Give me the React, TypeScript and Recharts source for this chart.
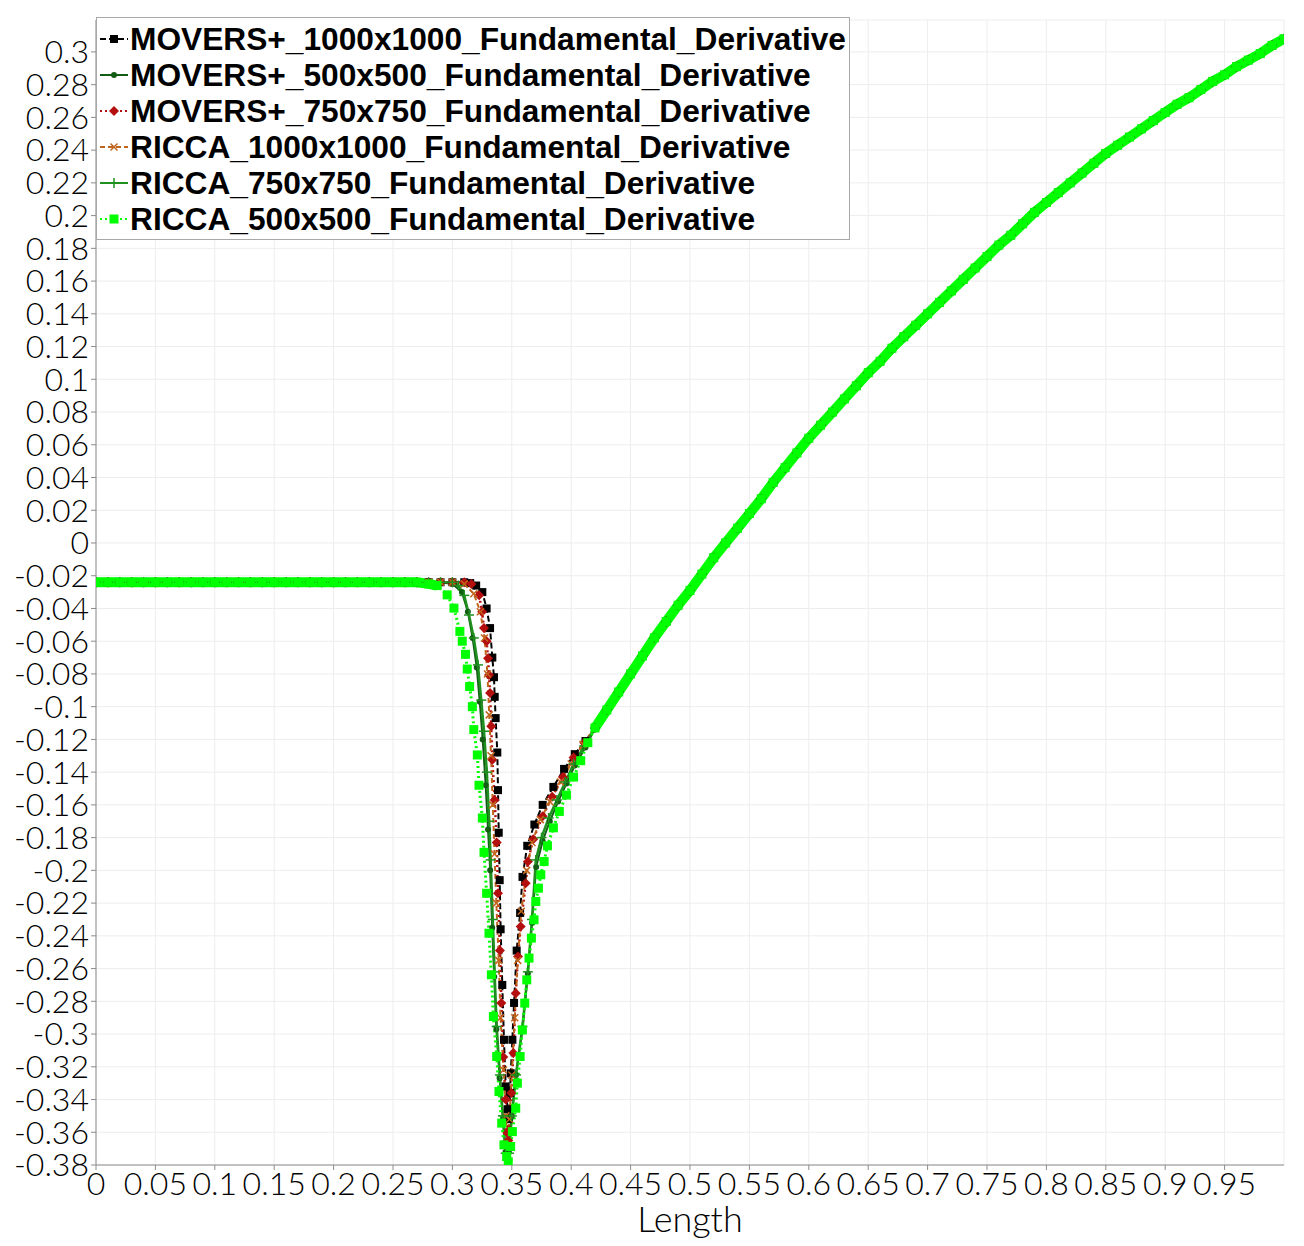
import { LineChart, Line, XAxis, YAxis, CartesianGrid } from 'recharts'

// flat part, shared by all runs
const PLATEAU_X = [
  0, 0.01, 0.02, 0.03, 0.04, 0.05, 0.06, 0.07, 0.08, 0.09, 0.1, 0.11, 0.12, 0.13,
  0.14, 0.15, 0.16, 0.17, 0.18, 0.19, 0.2, 0.21, 0.22, 0.23, 0.24, 0.25, 0.26, 0.27,
]
const PLATEAU_Y = -0.024

// expansion branch, all runs collapse onto it
const TAIL_X = [
  0.42, 0.43, 0.44, 0.45, 0.46, 0.47, 0.48, 0.49, 0.5, 0.51, 0.52, 0.53, 0.54, 0.55,
  0.56, 0.57, 0.58, 0.59, 0.6, 0.61, 0.62, 0.63, 0.64, 0.65, 0.66, 0.67, 0.68, 0.69,
  0.7, 0.71, 0.72, 0.73, 0.74, 0.75, 0.76, 0.77, 0.78, 0.79, 0.8, 0.81, 0.82, 0.83,
  0.84, 0.85, 0.86, 0.87, 0.88, 0.89, 0.9, 0.91, 0.92, 0.93, 0.94, 0.95, 0.96, 0.97,
  0.98, 0.99, 1.0,
]
const TAIL_Y = [
  -0.113, -0.102, -0.091, -0.08, -0.069, -0.058, -0.048, -0.038, -0.029, -0.019, -0.009, 0.0, 0.009, 0.018,
  0.027, 0.037, 0.046, 0.055, 0.064, 0.072, 0.08, 0.088, 0.096, 0.104, 0.111, 0.119, 0.126, 0.133,
  0.14, 0.147, 0.154, 0.161, 0.168, 0.175, 0.182, 0.188, 0.195, 0.202, 0.208, 0.214, 0.22, 0.226,
  0.232, 0.238, 0.243, 0.248, 0.253, 0.258, 0.263, 0.268, 0.272, 0.277, 0.282, 0.286, 0.291, 0.295,
  0.299, 0.304, 0.308,
]

// shock region, per run
const M1000_DIP: [number, number][] = [
  [0.28, -0.024], [0.29, -0.024], [0.3, -0.024], [0.31, -0.024], [0.315, -0.0245], [0.32, -0.026],
  [0.3252, -0.03], [0.3288, -0.04], [0.3317, -0.052], [0.3336, -0.07], [0.335, -0.082], [0.3356, -0.094],
  [0.3364, -0.107], [0.3378, -0.128], [0.3384, -0.151], [0.339, -0.177], [0.3398, -0.206], [0.3406, -0.236],
  [0.342, -0.27], [0.3434, -0.3035], [0.3449, -0.332], [0.3465, -0.346], [0.3477, -0.352], [0.3485, -0.336],
  [0.3491, -0.324], [0.3505, -0.3035], [0.3519, -0.281], [0.3541, -0.249], [0.357, -0.226], [0.359, -0.204],
  [0.363, -0.185], [0.369, -0.172], [0.376, -0.16], [0.385, -0.149], [0.394, -0.138], [0.403, -0.129],
  [0.412, -0.121],
]
const M500_DIP: [number, number][] = [
  [0.28, -0.024], [0.29, -0.024], [0.3, -0.025], [0.308, -0.03], [0.313, -0.042], [0.317, -0.058],
  [0.3205, -0.076], [0.323, -0.097], [0.3255, -0.12], [0.328, -0.148], [0.33, -0.175], [0.3318, -0.2],
  [0.3335, -0.235], [0.3352, -0.265], [0.337, -0.297], [0.3398, -0.327], [0.3425, -0.352], [0.3447, -0.372],
  [0.3458, -0.377], [0.3475, -0.372], [0.35, -0.35], [0.3535, -0.325], [0.359, -0.297], [0.3635, -0.263],
  [0.367, -0.232], [0.3705, -0.198], [0.376, -0.182], [0.382, -0.17], [0.389, -0.158], [0.396, -0.147],
  [0.403, -0.136], [0.412, -0.125],
]
const M750_DIP: [number, number][] = [
  [0.28, -0.024], [0.29, -0.024], [0.3, -0.024], [0.31, -0.024], [0.316, -0.025], [0.3225, -0.032],
  [0.325, -0.042], [0.3266, -0.052], [0.3288, -0.06], [0.33, -0.0704], [0.3308, -0.0806], [0.3317, -0.0917],
  [0.3327, -0.112], [0.3336, -0.1325], [0.3356, -0.157], [0.3373, -0.183], [0.3384, -0.214], [0.34, -0.249],
  [0.3412, -0.281], [0.3428, -0.314], [0.3449, -0.34], [0.3463, -0.3605], [0.347, -0.365], [0.3477, -0.3585],
  [0.3496, -0.336], [0.3513, -0.3116], [0.3533, -0.275], [0.3552, -0.2526], [0.3575, -0.2343], [0.3617, -0.2078],
  [0.3636, -0.1946], [0.368, -0.181], [0.376, -0.167], [0.384, -0.155], [0.393, -0.143], [0.402, -0.131],
  [0.411, -0.122],
]
const R1000_DIP: [number, number][] = [
  [0.28, -0.024], [0.29, -0.024], [0.3, -0.024], [0.31, -0.025], [0.318, -0.031], [0.3235, -0.042],
  [0.327, -0.058], [0.3295, -0.08], [0.331, -0.105], [0.3325, -0.13], [0.334, -0.16], [0.3355, -0.19],
  [0.337, -0.22], [0.339, -0.255], [0.3405, -0.29], [0.343, -0.322], [0.345, -0.35], [0.3465, -0.368],
  [0.348, -0.352], [0.35, -0.325], [0.3525, -0.29], [0.355, -0.255], [0.358, -0.225], [0.3625, -0.2],
  [0.367, -0.183], [0.374, -0.169], [0.382, -0.158], [0.391, -0.146], [0.4, -0.135], [0.41, -0.123],
]
const R750_DIP: [number, number][] = [
  [0.28, -0.024], [0.29, -0.024], [0.3, -0.024], [0.305, -0.026], [0.31, -0.032], [0.314, -0.044],
  [0.318, -0.058], [0.3215, -0.0745], [0.3243, -0.096], [0.3266, -0.115], [0.329, -0.14], [0.331, -0.17],
  [0.3322, -0.1936], [0.334, -0.23], [0.3355, -0.262], [0.3373, -0.2954], [0.34, -0.325], [0.3425, -0.35],
  [0.3449, -0.3728], [0.3462, -0.377], [0.3477, -0.3728], [0.35, -0.35], [0.3535, -0.325], [0.359, -0.2954],
  [0.3635, -0.262], [0.367, -0.23], [0.3702, -0.1936], [0.375, -0.18], [0.381, -0.168], [0.388, -0.157],
  [0.395, -0.146], [0.402, -0.135], [0.411, -0.124],
]
const R500_DIP: [number, number][] = [
  [0.28, -0.025], [0.287, -0.026], [0.2956, -0.0317], [0.3013, -0.0398], [0.3063, -0.054], [0.3083, -0.06],
  [0.311, -0.068], [0.3125, -0.077], [0.3145, -0.0877], [0.3168, -0.1], [0.318, -0.114], [0.321, -0.1295],
  [0.3224, -0.148], [0.3252, -0.168], [0.3266, -0.189], [0.3288, -0.214], [0.3308, -0.2384], [0.3328, -0.2638],
  [0.3345, -0.2893], [0.3373, -0.3137], [0.3392, -0.3351], [0.3415, -0.3544], [0.3434, -0.3677], [0.3457, -0.3748],
  [0.347, -0.378], [0.349, -0.3687], [0.3505, -0.3596], [0.3533, -0.3453], [0.3547, -0.33], [0.357, -0.3137],
  [0.3589, -0.2975], [0.3609, -0.2811], [0.3626, -0.2669], [0.3645, -0.2536], [0.3665, -0.2414], [0.3687, -0.2302],
  [0.3702, -0.219], [0.3724, -0.2109], [0.3744, -0.2027], [0.3772, -0.1946], [0.38, -0.185], [0.385, -0.174],
  [0.39, -0.164], [0.396, -0.154], [0.402, -0.143], [0.408, -0.133], [0.414, -0.122],
]

const X_TICKS = [0, 0.05, 0.1, 0.15, 0.2, 0.25, 0.3, 0.35, 0.4, 0.45, 0.5, 0.55, 0.6, 0.65, 0.7, 0.75, 0.8, 0.85, 0.9, 0.95]
const Y_TICKS = [
  -0.38, -0.36, -0.34, -0.32, -0.3, -0.28, -0.26, -0.24, -0.22, -0.2, -0.18, -0.16, -0.14, -0.12,
  -0.1, -0.08, -0.06, -0.04, -0.02, 0, 0.02, 0.04, 0.06, 0.08, 0.1, 0.12, 0.14, 0.16, 0.18, 0.2,
  0.22, 0.24, 0.26, 0.28, 0.3,
]

type Pt = { x: number; y: number }
type Kind = 'square' | 'circle' | 'diamond' | 'cross' | 'plus'

const toPoints = (dip: [number, number][]): Pt[] => [
  ...PLATEAU_X.map((x) => ({ x, y: PLATEAU_Y })),
  ...dip.map(([x, y]) => ({ x, y })),
  ...TAIL_X.map((x, i) => ({ x, y: TAIL_Y[i] })),
]

const SERIES: { name: string; color: string; dash?: string; width: number; kind: Kind; size: number; dip: [number, number][] }[] = [
  { name: 'MOVERS+_1000x1000_Fundamental_Derivative', color: '#000000', dash: '6 3', width: 2, kind: 'square', size: 8, dip: M1000_DIP },
  { name: 'MOVERS+_500x500_Fundamental_Derivative', color: '#135c13', width: 2, kind: 'circle', size: 6, dip: M500_DIP },
  { name: 'MOVERS+_750x750_Fundamental_Derivative', color: '#b40f0f', dash: '2 3', width: 2.5, kind: 'diamond', size: 10, dip: M750_DIP },
  { name: 'RICCA_1000x1000_Fundamental_Derivative', color: '#c0661c', dash: '5 3', width: 2, kind: 'cross', size: 7, dip: R1000_DIP },
  { name: 'RICCA_750x750_Fundamental_Derivative', color: '#1f8f1f', width: 2.5, kind: 'plus', size: 10, dip: R750_DIP },
  { name: 'RICCA_500x500_Fundamental_Derivative', color: '#00ff00', dash: '2 3', width: 3, kind: 'square', size: 9, dip: R500_DIP },
]

function Marker({ kind, cx, cy, color, size }: { kind: Kind; cx: number; cy: number; color: string; size: number }) {
  const h = size / 2
  if (kind === 'square') return <rect x={cx - h} y={cy - h} width={size} height={size} fill={color} />
  if (kind === 'circle') return <circle cx={cx} cy={cy} r={h} fill={color} />
  if (kind === 'diamond')
    return <polygon points={`${cx},${cy - h} ${cx + h},${cy} ${cx},${cy + h} ${cx - h},${cy}`} fill={color} />
  if (kind === 'cross')
    return (
      <g stroke={color} strokeWidth={1.5}>
        <line x1={cx - h} y1={cy - h} x2={cx + h} y2={cy + h} />
        <line x1={cx - h} y1={cy + h} x2={cx + h} y2={cy - h} />
      </g>
    )
  return (
    <g stroke={color} strokeWidth={1.5}>
      <line x1={cx - h} y1={cy} x2={cx + h} y2={cy} />
      <line x1={cx} y1={cy - h} x2={cx} y2={cy + h} />
    </g>
  )
}

const fmt = (v: number) => String(Number(v.toFixed(2)))
const TICK_FONT = { fill: '#000', fontSize: 32, fontFamily: 'Lato, sans-serif', fontWeight: 300 }

function LegendBox() {
  return (
    <div
      style={{
        position: 'absolute', left: 96, top: 17, width: 754, height: 223,
        border: '1px solid #a8a8a8', background: '#fff', boxSizing: 'border-box',
        paddingTop: 3,
      }}
    >
      {SERIES.map((s) => (
        <div key={s.name} style={{ display: 'flex', alignItems: 'center', height: 36 }}>
          <svg width={30} height={16} style={{ marginLeft: 3 }}>
            <line x1={0} y1={8} x2={28} y2={8} stroke={s.color} strokeWidth={2} strokeDasharray={s.dash} />
            <Marker kind={s.kind} cx={14} cy={8} color={s.color} size={s.size} />
          </svg>
          <span
            style={{
              fontFamily: '"Liberation Sans", Arial, sans-serif', fontWeight: 700, fontSize: 31.7,
              color: '#000', lineHeight: '36px', whiteSpace: 'nowrap',
            }}
          >
            {s.name}
          </span>
        </div>
      ))}
    </div>
  )
}

export default function App() {
  const green = SERIES[5]
  const greenPts = toPoints(green.dip)
  const flatBand = greenPts.filter((p) => p.x <= 0.287)
  const tailBand = greenPts.filter((p) => p.x >= 0.42)
  return (
    <div style={{ position: 'relative', width: 1304, height: 1246, background: '#fff' }}>
      <style>{'body{margin:0}'}</style>
      <LineChart width={1304} height={1246} margin={{ top: 20, right: 20, left: 0, bottom: 0 }}>
        <CartesianGrid stroke="#ededed" />
        <XAxis
          type="number"
          dataKey="x"
          domain={[0, 1]}
          ticks={X_TICKS}
          interval={0}
          allowDataOverflow
          height={81}
          tickFormatter={fmt}
          tick={TICK_FONT}
          tickSize={5}
          axisLine={{ stroke: '#8c8c8c' }}
          tickLine={{ stroke: '#8c8c8c' }}
          label={{ value: 'Length', position: 'insideBottom', offset: 14, fontSize: 36, fill: '#000', fontFamily: 'Lato, sans-serif', fontWeight: 300 }}
        />
        <YAxis
          type="number"
          domain={[-0.38, 0.3195]}
          ticks={Y_TICKS}
          interval={0}
          allowDataOverflow
          width={96}
          tickFormatter={fmt}
          tick={TICK_FONT}
          tickSize={5}
          axisLine={{ stroke: '#8c8c8c' }}
          tickLine={{ stroke: '#8c8c8c' }}
        />
        {SERIES.map((s) => (
          <Line
            key={s.name}
            data={toPoints(s.dip)}
            dataKey="y"
            type="linear"
            stroke={s.color}
            strokeWidth={s.width}
            strokeDasharray={s.dash}
            isAnimationActive={false}
            dot={(p: any) => (
              <Marker key={`${s.name}-${p.index}`} kind={s.kind} cx={p.cx} cy={p.cy} color={s.color} size={s.size} />
            )}
          />
        ))}
        {/* dense 500x500 markers read as a solid band on the smooth parts */}
        <Line data={flatBand} dataKey="y" stroke={green.color} strokeWidth={10} dot={false} isAnimationActive={false} />
        <Line data={tailBand} dataKey="y" stroke={green.color} strokeWidth={10} dot={false} isAnimationActive={false} />
      </LineChart>
      <LegendBox />
    </div>
  )
}
